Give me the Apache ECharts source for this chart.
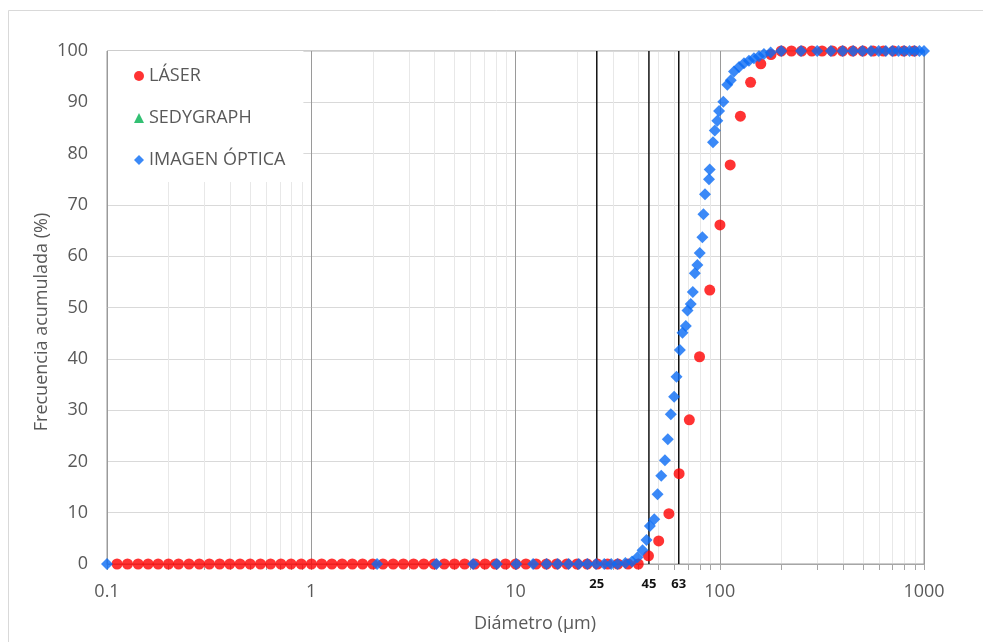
<!DOCTYPE html>
<html>
<head>
<meta charset="utf-8">
<script src="https://cdn.jsdelivr.net/npm/echarts@6/dist/echarts.min.js"></script>
<style>
html,body{margin:0;padding:0;background:#fff;}
#chart{width:983px;height:642px;}
</style>
</head>
<body>
<div id="chart"></div>
<script>
// ---- data ----
const laserD = [0.112, 0.126, 0.142, 0.159, 0.178, 0.2, 0.224, 0.252, 0.283, 0.317, 0.356, 0.399, 0.448, 0.502, 0.564, 0.632, 0.71, 0.796, 0.893, 1.002, 1.125, 1.262, 1.416, 1.589, 1.783, 2.0, 2.244, 2.518, 2.825, 3.17, 3.557, 3.991, 4.477, 5.024, 5.637, 6.325, 7.096, 7.962, 8.934, 10.024, 11.247, 12.619, 14.159, 15.887, 17.825, 20.0, 22.44, 25.179, 28.251, 31.698, 35.566, 39.905, 44.774, 50.238, 56.368, 63.246, 70.963, 79.621, 89.337, 100.237, 112.468, 126.191, 141.589, 158.866, 178.25, 200.0, 224.404, 251.785, 282.508, 316.979, 355.656, 399.052, 447.744, 502.377, 563.677, 632.456, 709.627, 796.214, 893.367];
const laserV = [0, 0, 0, 0, 0, 0, 0, 0, 0, 0, 0, 0, 0, 0, 0, 0, 0, 0, 0, 0, 0, 0, 0, 0, 0, 0, 0, 0, 0, 0, 0, 0, 0, 0, 0, 0, 0, 0, 0, 0, 0, 0, 0, 0, 0, 0, 0, 0, 0, 0, 0, 0, 1.6, 4.5, 9.8, 17.6, 28.1, 40.4, 53.4, 66.1, 77.8, 87.3, 93.9, 97.5, 99.3, 100, 100, 100, 100, 100, 100, 100, 100, 100, 100, 100, 100, 100, 100];

const sedyD = [];
const sedyV = [];

const imgD = [0.1, 2.1, 4.1, 6.2, 8.1, 10.1, 12.2, 14.2, 16.1, 18.2, 20.4, 22.5, 24.8, 27.2, 29.4, 31.6, 34.5, 37.2, 39.6, 41.9, 43.8, 45.5, 47.8, 49.6, 51.7, 53.9, 55.7, 57.6, 59.8, 61.4, 63.8, 65.7, 68.2, 69.5, 72.1, 73.8, 75.5, 77.7, 79.8, 82.2, 83.2, 84.7, 88.6, 89.3, 92.7, 94.6, 97.3, 99.2, 104.1, 108.9, 113.2, 117.4, 124.3, 131.4, 139, 147, 155.6, 164.6, 177.5, 200, 250, 300, 350, 400, 450, 500, 550, 600, 650, 700, 750, 800, 850, 900, 950, 1000];
const imgV = [0, 0, 0, 0, 0, 0, 0, 0, 0, 0, 0, 0, 0, 0, 0, 0, 0.2, 0.5, 1.3, 2.7, 4.7, 7.4, 8.7, 13.6, 17.2, 20.2, 24.3, 29.2, 32.6, 36.5, 41.7, 45.1, 46.4, 49.4, 50.7, 53.0, 56.7, 58.3, 60.6, 63.7, 68.2, 72.1, 75.0, 76.9, 82.2, 84.5, 86.4, 88.3, 90.1, 93.4, 94.3, 96.0, 96.9, 97.6, 98.1, 98.6, 99.0, 99.4, 99.7, 100, 100, 100, 100, 100, 100, 100, 100, 100, 100, 100, 100, 100, 100, 100, 100, 100];

const refLines = [25, 45, 63];
const xDecades = [0.1, 1, 10, 100];
const minorMult = [2, 3, 4, 5, 6, 7, 8, 9];
const seriesNames = ['LÁSER', 'SEDYGRAPH', 'IMAGEN ÓPTICA'];

// ---- build ----
const zip = (a, b) => a.map((v, i) => [v, b[i]]);
const minorVals = [];
xDecades.forEach(d => minorMult.forEach(m => minorVals.push([+(d * m).toPrecision(4), 0])));

const FONT = '"Open Sans", sans-serif';
const TXT = '#595959';

const chart = echarts.init(document.getElementById('chart'), null, {renderer: 'canvas'});
const crisp = v => Math.round(v) + 0.5;

chart.setOption({
  animation: false,
  backgroundColor: '#fff',
  textStyle: {fontFamily: FONT},
  grid: {left: 107, right: 59, top: 51, bottom: 78, show: true, borderColor: '#9a9a9a', borderWidth: 1, containLabel: false},
  xAxis: {
    type: 'log', logBase: 10, min: 0.1, max: 1000,
    axisLine: {show: true, lineStyle: {color: '#a6a6a6'}},
    axisTick: {show: true, length: 6, inside: false, lineStyle: {color: '#a6a6a6'}},
    axisLabel: {fontSize: 18, color: TXT, margin: 19, fontFamily: FONT,
      formatter: v => String(parseFloat(Number(v).toPrecision(3)))},
    splitLine: {show: true, lineStyle: {color: '#9a9a9a', width: 1}},
    minorTick: {show: false}
  },
  yAxis: {
    type: 'value', min: 0, max: 100, interval: 10,
    axisLine: {show: false},
    axisTick: {show: false},
    axisLabel: {fontSize: 18, color: TXT, margin: 19, fontFamily: FONT},
    splitLine: {show: true, lineStyle: {color: '#d9d9d9', width: 1}}
  },
  legend: {
    data: seriesNames.map((n, i) => ({name: n, icon: ['circle', 'triangle', 'diamond'][i]})),
    orient: 'vertical', left: 108, top: 51,
    padding: [15, 18, 12, 26],
    itemGap: 22, itemWidth: 10, itemHeight: 10,
    backgroundColor: '#ffffff',
    selectedMode: false,
    textStyle: {fontSize: 18, color: TXT, lineHeight: 20, fontFamily: FONT}
  },
  graphic: [
    {type: 'rect', silent: true, z: -10, shape: {x: 8.5, y: 10.5, width: 1000, height: 700},
      style: {fill: 'none', stroke: '#d9d9d9', lineWidth: 1}},
    {type: 'text', x: 535, y: 624, style: {text: 'Diámetro (µm)', fontSize: 18, fill: TXT, fontFamily: FONT, textAlign: 'center', textVerticalAlign: 'middle'}},
    {type: 'text', x: 42, y: 322, rotation: Math.PI / 2, style: {text: 'Frecuencia acumulada (%)', fontSize: 18, fill: TXT, fontFamily: FONT, textAlign: 'center', textVerticalAlign: 'middle'}}
  ],
  series: [
    {
      name: 'minor', type: 'custom', z: 1, silent: true,
      encode: {x: 0, y: 1},
      data: minorVals,
      renderItem: (params, api) => {
        const p0 = api.coord([api.value(0), 0]);
        const p1 = api.coord([api.value(0), 100]);
        const x = crisp(p0[0]);
        return {type: 'group', children: [
          {type: 'line', shape: {x1: x, y1: p1[1] + 1, x2: x, y2: p0[1] - 1}, style: {stroke: '#e8e8e8', lineWidth: 1}},
          {type: 'line', shape: {x1: x, y1: p0[1], x2: x, y2: p0[1] + 6}, style: {stroke: '#a6a6a6', lineWidth: 1}}
        ]};
      }
    },
    {
      name: 'refs', type: 'custom', z: 1.5, silent: true,
      encode: {x: 0, y: 1},
      data: refLines.map(v => [v, 0]),
      renderItem: (params, api) => {
        const p0 = api.coord([api.value(0), 0]);
        const p1 = api.coord([api.value(0), 100]);
        const x = p0[0];
        return {type: 'group', children: [
          {type: 'line', shape: {x1: x, y1: p1[1], x2: x, y2: p0[1]}, style: {stroke: '#111', lineWidth: 1.5}},
          {type: 'text', x: x, y: p0[1] + 20, style: {text: String(api.value(0)), fontSize: 13, fontWeight: 'bold', fill: '#111', fontFamily: FONT, textAlign: 'center', textVerticalAlign: 'middle'}}
        ]};
      }
    },
    {
      name: 'LÁSER', type: 'scatter', z: 2, symbol: 'circle', symbolSize: 11,
      itemStyle: {color: '#ff0000'},
      data: zip(laserD, laserV)
    },
    {
      name: 'SEDYGRAPH', type: 'scatter', z: 3, symbol: 'triangle', symbolSize: 11,
      itemStyle: {color: '#00b050'},
      data: zip(sedyD, sedyV)
    },
    {
      name: 'IMAGEN ÓPTICA', type: 'scatter', z: 4, symbol: 'diamond', symbolSize: 12,
      itemStyle: {color: '#0a6cf5'},
      data: zip(imgD, imgV)
    }
  ]
});
</script>
</body>
</html>
